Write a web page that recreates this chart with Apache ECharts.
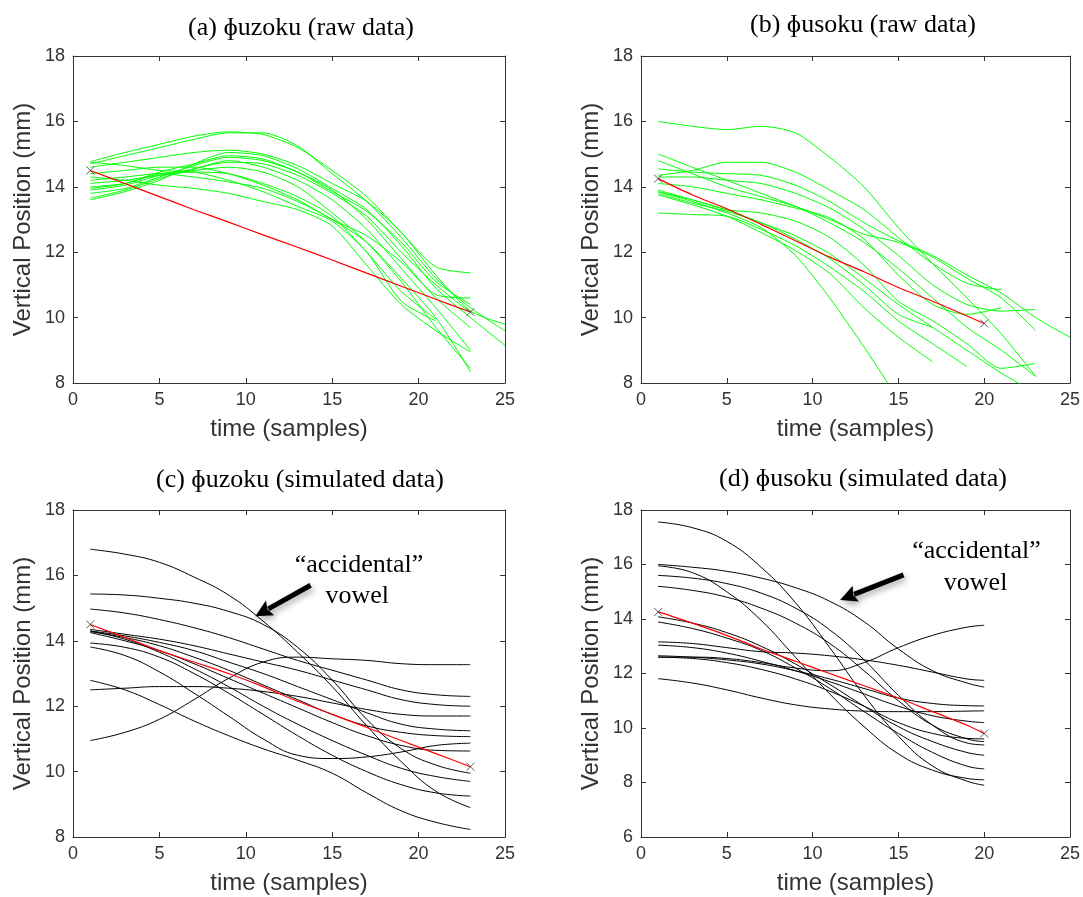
<!DOCTYPE html>
<html><head><meta charset="utf-8">
<script src="https://cdn.jsdelivr.net/npm/echarts/dist/echarts.min.js"></script>
<style>html,body{margin:0;padding:0;background:#fff}#c{width:1083px;height:897px}</style>
</head><body><div id="c"></div>
<script>
// ---------- DATA ----------
const X_TICKS = [0, 25, 5];          // min, max, interval for time axis
const Y_RANGE_ABC = [8, 18, 2];
const Y_RANGE_D = [6, 18, 2];

const TITLES = ['(a) ɸuzoku (raw data)', '(b) ɸusoku (raw data)', '(c) ɸuzoku (simulated data)', '(d) ɸusoku (simulated data)'];
const X_NAME = 'time (samples)';
const Y_NAME = 'Vertical Position (mm)';
const ANNOT_TEXT = ['“accidental”', 'vowel'];

// (a) raw data, samples at A_X
const A_X = [1,3,5,7,9,11,13,15,17,19,21,23,25];
const A_RAW = [
  [14.77,15.05,15.3,15.55,15.68,15.6,15.2,14.5,13.7,12.6,11.55,11.37],
  [14.7,14.95,15.2,15.45,15.65,15.65,15.25,14.4,13.55,12.45,11.2,10.3,9.6],
  [14.6,14.75,14.9,15.05,15.12,15.0,14.65,14.1,13.55,12.6,11.3,10.2,9.8],
  [13.6,13.85,14.2,14.7,15.05,14.95,14.55,13.95,13.3,12.2,10.9,10.0,9.15],
  [13.8,13.95,14.3,14.65,14.9,14.8,14.45,13.9,13.0,11.8,10.6,9.7],
  [13.9,14.05,14.35,14.55,14.8,14.6,14.2,13.6,12.7,11.5,10.3,9.0],
  [14.0,14.1,14.4,14.5,14.6,14.45,14.0,13.2,12.3,11.1,9.7,8.45],
  [14.1,14.2,14.35,14.45,14.4,14.1,13.7,13.1,12.0,10.8,9.95],
  [14.2,14.3,14.4,14.3,14.15,13.95,13.55,13.0,12.3,11.2,10.0,8.35],
  [14.75,14.65,14.5,14.45,14.2,13.85,13.4,12.95,12.0,10.5,9.9],
  [14.3,14.2,14.05,13.95,13.8,13.55,13.3,12.8,11.6,10.4,9.6,8.95],
  [14.4,14.5,14.6,14.6,14.4,14.05,13.6,13.0,12.5,11.7,10.7,10.6],
  [13.65,13.9,14.25,14.55,14.75,14.7,14.35,13.8,13.1,12.0,11.0,10.15],
  [13.95,14.1,14.45,14.7,14.95,14.85,14.45,13.85,13.25,12.3,11.1,10.4]
];
const A_MEAN_X = [1,3,5,7,9,11,13,15,17,19,21,23];
const A_MEAN = [14.5,14.1,13.7,13.3,12.92,12.53,12.15,11.76,11.36,10.96,10.56,10.17];

// (b) raw data
const B_X = [1,3,5,7,9,11,13,15,17,19,21,23,25];
const B_RAW = [
  [16.0,15.85,15.75,15.85,15.65,14.9,14.0,12.75,11.65,10.6,9.5,8.2],
  [13.85,13.55,13.2,12.75,11.9,10.6,9.1,7.5],
  [15.0,14.6,14.2,13.8,13.4,12.9,12.3,11.5,10.6,9.7,9.0,8.2],
  [14.35,14.5,14.75,14.75,14.45,13.9,13.3,12.45,11.65,11.05,10.85],
  [14.55,14.45,14.4,14.35,14.05,13.55,12.9,12.35,11.9,11.3,10.75,10.0,9.4],
  [14.3,14.3,14.2,14.1,13.8,13.35,12.7,11.9,11.0,10.4,10.2,10.25],
  [14.1,14.0,13.8,13.6,13.35,13.05,12.4,11.3,10.4,10.1,10.3],
  [13.85,13.6,13.3,13.2,12.95,12.45,11.6,10.5,9.9,9.2,8.45,8.6],
  [13.8,13.5,13.25,12.9,12.4,11.8,11.0,10.1,9.7],
  [13.75,13.45,13.1,12.6,12.05,11.35,10.3,9.4,8.65],
  [13.2,13.15,13.1,12.7,12.2,11.55,10.8,9.9,9.2,8.5],
  [13.9,13.6,13.3,12.9,12.5,11.95,11.2,10.4,9.7,9.0,8.3,7.7],
  [14.8,14.4,14.0,13.7,13.4,13.0,12.55,12.3,11.85,11.2,10.6,9.6]
];
const B_MEAN_X = [1,3,5,7,9,11,13,15,17,19,20];
const B_MEAN = [14.25,13.75,13.33,12.85,12.35,11.85,11.4,10.92,10.5,10.05,9.82];

// (c) simulated data
const C_X = [1,3,5,7,9,11,13,15,17,19,21,23];
const C_SIM = [
  [16.8,16.65,16.4,15.95,15.4,14.6,13.65,12.6,11.4,10.3,9.4,8.9],
  [15.43,15.4,15.3,15.15,14.9,14.5,13.8,12.8,11.6,10.7,10.2,9.95],
  [14.97,14.85,14.65,14.4,14.1,13.75,13.4,13.1,12.8,12.5,12.35,12.3],
  [14.35,14.2,14.05,13.85,13.6,13.35,13.1,12.8,12.5,12.2,12.05,12.0],
  [14.3,14.15,13.95,13.7,13.35,13.0,12.6,12.2,11.8,11.45,11.3,11.25],
  [14.28,14.1,13.85,13.5,13.1,12.65,12.2,11.75,11.4,11.2,11.1,11.07],
  [14.25,14.0,13.7,13.3,12.85,12.4,11.95,11.5,11.1,10.8,10.65,10.63],
  [14.3,14.05,13.65,13.15,12.6,12.0,11.45,10.95,10.5,10.1,9.85,9.7],
  [13.93,13.8,13.5,13.0,12.4,11.75,11.1,10.5,10.0,9.6,9.35,9.25],
  [13.81,13.55,13.05,12.4,11.7,11.0,10.5,10.4,10.45,10.6,10.8,10.87],
  [12.79,12.5,12.05,11.55,11.1,10.7,10.35,9.95,9.35,8.8,8.45,8.23],
  [12.5,12.55,12.6,12.6,12.55,12.45,12.3,12.1,11.9,11.75,11.7,11.7],
  [10.95,11.2,11.6,12.2,12.85,13.35,13.5,13.45,13.4,13.3,13.27,13.27]
];
const C_MEAN = [14.5,14.1,13.7,13.35,13.0,12.6,12.15,11.75,11.35,10.95,10.55,10.15];

// (d) simulated data
const D_X = [1,3,5,7,9,11,13,15,17,19,20];
const D_SIM = [
  [17.56,17.35,16.85,15.9,14.6,12.95,11.2,9.7,8.6,8.05,7.9],
  [16.0,15.9,15.75,15.5,15.15,14.65,13.9,12.9,12.1,11.65,11.5],
  [15.95,15.7,15.0,13.95,12.6,11.25,10.05,9.05,8.45,8.15,8.1],
  [15.6,15.5,15.3,14.95,14.4,13.6,12.5,11.2,10.1,9.45,9.38],
  [15.2,15.05,14.8,14.4,13.85,13.1,12.1,11.0,10.1,9.6,9.5],
  [14.08,13.85,13.5,13.0,12.35,11.6,10.8,10.05,9.5,9.1,9.0],
  [13.89,13.65,13.3,12.85,12.2,11.45,10.6,9.8,9.1,8.6,8.5],
  [13.16,13.1,12.95,12.8,12.75,12.65,12.5,12.3,12.05,11.8,11.75],
  [13.04,12.95,12.75,12.45,12.1,11.7,11.25,10.8,10.45,10.25,10.2],
  [12.6,12.6,12.55,12.4,12.2,12.1,12.4,12.95,13.4,13.7,13.77],
  [12.65,12.6,12.5,12.35,12.1,11.8,11.45,11.1,10.9,10.82,10.81],
  [12.6,12.55,12.4,12.15,11.8,11.35,10.8,10.2,9.8,9.62,9.6],
  [11.81,11.65,11.4,11.1,10.85,10.7,10.62,10.6,10.6,10.62,10.63]
];
const D_MEAN = [14.26,13.85,13.4,12.9,12.45,12.0,11.55,11.1,10.6,10.1,9.8];

// annotation anchors in data coordinates: [arrow tip, arrow tail, text line 1, text line 2]
const ANNOT_C = [[10.55,14.75],[13.75,15.7],[16.55,16.3],[16.45,15.35]];
const ANNOT_D = [[11.6,14.7],[15.3,15.62],[19.55,16.5],[19.5,15.33]];

// ---------- LAYOUT / STYLE ----------
const GRIDS = [
  {left:73, top:56, width:432, height:327},
  {left:641, top:56, width:430, height:327},
  {left:73, top:510, width:432, height:327},
  {left:641, top:510, width:430, height:327}
];
const TITLE_POS = [[301,28],[863,25],[300,480],[863,479]];
const SANS = '"Liberation Sans", Arial, Helvetica, sans-serif';
const SERIF = '"Liberation Serif", "Times New Roman", "DejaVu Serif", serif';
const AX = '#333';
const GREEN = '#00ff00', RED = '#ff0000', BLACK = '#000000';

const chart = echarts.init(document.getElementById('c'), null, {renderer:'canvas'});

const xAxes = [], yAxes = [], series = [];
GRIDS.forEach((g, i) => {
  const yr = i === 3 ? Y_RANGE_D : Y_RANGE_ABC;
  const common = {
    gridIndex: i, type: 'value',
    axisLine: {show: true, onZero: false, lineStyle: {color: AX, width: 1}},
    axisTick: {show: true, inside: true, length: 5, lineStyle: {color: AX}},
    splitLine: {show: false}
  };
  xAxes.push(Object.assign({}, common, {
    position: 'bottom', min: X_TICKS[0], max: X_TICKS[1], interval: X_TICKS[2],
    name: X_NAME, nameLocation: 'middle', nameGap: 34,
    nameTextStyle: {fontFamily: SANS, fontSize: 24, color: AX},
    axisLabel: {show: true, margin: 8, fontFamily: SANS, fontSize: 18, color: AX, showMinLabel: true, showMaxLabel: true}
  }));
  xAxes.push(Object.assign({}, common, {
    position: 'top', min: X_TICKS[0], max: X_TICKS[1], interval: X_TICKS[2],
    axisLabel: {show: false}
  }));
  yAxes.push(Object.assign({}, common, {
    position: 'left', min: yr[0], max: yr[1], interval: yr[2],
    name: Y_NAME, nameLocation: 'middle', nameGap: 38,
    nameTextStyle: {fontFamily: SANS, fontSize: 24, color: AX},
    axisLabel: {show: true, margin: 8, fontFamily: SANS, fontSize: 18, color: AX, showMinLabel: true, showMaxLabel: true}
  }));
  yAxes.push(Object.assign({}, common, {
    position: 'right', min: yr[0], max: yr[1], interval: yr[2],
    axisLabel: {show: false}
  }));
});

function pairs(xs, ys) { return ys.map((y, k) => [xs[k], y]); }
function addLines(i, xs, lines, color, smooth) {
  lines.forEach(ys => series.push({
    type: 'line', xAxisIndex: 2*i, yAxisIndex: 2*i, data: pairs(xs, ys),
    showSymbol: false, symbol: 'none', smooth: smooth, silent: true, z: 2,
    lineStyle: {color: color, width: 1}
  }));
}
function addMean(i, xs, ys) {
  const d = pairs(xs, ys);
  series.push({
    type: 'line', xAxisIndex: 2*i, yAxisIndex: 2*i, data: d,
    showSymbol: false, symbol: 'none', smooth: 0.3, silent: true, z: 3,
    lineStyle: {color: RED, width: 1.2}
  });
  series.push({
    type: 'scatter', xAxisIndex: 2*i, yAxisIndex: 2*i, data: [d[0], d[d.length-1]],
    symbol: 'path://M0,0L10,10M10,0L0,10', symbolSize: 8, silent: true, z: 4,
    itemStyle: {color: 'rgba(0,0,0,0)', borderColor: '#333', borderWidth: 1}
  });
}
addLines(0, A_X, A_RAW, GREEN, 0.25);
addMean(0, A_MEAN_X, A_MEAN);
addLines(1, B_X, B_RAW, GREEN, 0.25);
addMean(1, B_MEAN_X, B_MEAN);
addLines(2, C_X, C_SIM, BLACK, 0.45);
addMean(2, C_X, C_MEAN);
addLines(3, D_X, D_SIM, BLACK, 0.45);
addMean(3, D_X, D_MEAN);

chart.setOption({
  animation: false,
  backgroundColor: '#fff',
  grid: GRIDS.map(g => Object.assign({containLabel: false}, g)),
  xAxis: xAxes, yAxis: yAxes, series: series
});

// ---------- graphics: titles & annotations ----------
function textEl(txt, x, y, size) {
  return {type: 'text', x: x, y: y, z: 10, silent: true,
    style: {text: txt, font: size + 'px ' + SERIF, fill: '#000',
      textAlign: 'center', textVerticalAlign: 'middle', align: 'center', verticalAlign: 'middle'}};
}
function arrowEls(tip, tail) {
  const dx = tip[0] - tail[0], dy = tip[1] - tail[1];
  const len = Math.sqrt(dx*dx + dy*dy), ux = dx/len, uy = dy/len, nx = -uy, ny = ux;
  const L = 17, W = 8.5;
  const bx = tip[0] - ux*L, by = tip[1] - uy*L;
  const sh = {shadowBlur: 6, shadowColor: 'rgba(0,0,0,0.35)', shadowOffsetX: 2, shadowOffsetY: 3};
  return [
    {type: 'line', z: 9, silent: true, shape: {x1: tail[0], y1: tail[1], x2: bx + ux*2, y2: by + uy*2},
      style: Object.assign({stroke: '#000', lineWidth: 5, lineCap: 'butt'}, sh)},
    {type: 'polygon', z: 9, silent: true,
      shape: {points: [[tip[0], tip[1]], [bx + nx*W, by + ny*W], [bx + ux*3, by + uy*3], [bx - nx*W, by - ny*W]]},
      style: Object.assign({fill: '#000'}, sh)}
  ];
}
const gr = [];
TITLES.forEach((t, i) => gr.push(textEl(t, TITLE_POS[i][0], TITLE_POS[i][1], 26)));
[[2, ANNOT_C], [3, ANNOT_D]].forEach(([gi, an]) => {
  const p = an.map(pt => chart.convertToPixel({xAxisIndex: 2*gi, yAxisIndex: 2*gi}, pt));
  arrowEls(p[0], p[1]).forEach(e => gr.push(e));
  gr.push(textEl(ANNOT_TEXT[0], p[2][0], p[2][1], 26));
  gr.push(textEl(ANNOT_TEXT[1], p[3][0], p[3][1], 26));
});
chart.setOption({graphic: gr});
</script></body></html>
